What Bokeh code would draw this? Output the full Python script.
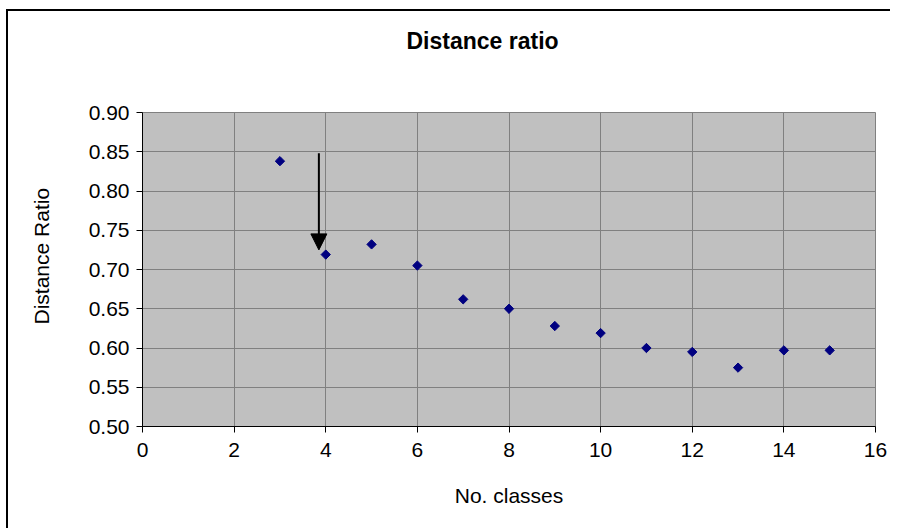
import numpy as np
from bokeh.plotting import figure
from bokeh.models import (FixedTicker, PrintfTickFormatter, Arrow, Title,
                          NormalHead, Range1d, ColumnDataSource)
from bokeh.embed import file_html
from bokeh.resources import INLINE

# ---- data ----
classes = [3, 4, 5, 6, 7, 8, 9, 10, 11, 12, 13, 14, 15]
ratio = [0.838, 0.719, 0.732, 0.705, 0.662, 0.650, 0.628, 0.619, 0.600, 0.595, 0.575, 0.597, 0.597]
x_ticks = [0, 2, 4, 6, 8, 10, 12, 14, 16]
y_ticks = [0.50, 0.55, 0.60, 0.65, 0.70, 0.75, 0.80, 0.85, 0.90]
arrow_x = 3.85
arrow_y_start = 0.848
arrow_y_end = 0.725

FONT = "Liberation Sans"

p = figure(width=884, height=519, output_backend="svg", toolbar_location=None,
           x_range=Range1d(0, 16), y_range=Range1d(0.50, 0.90),
           min_border_left=134, min_border_top=101, min_border_right=17,
           min_border_bottom=104)
p.styles = {"margin-left": "8px", "margin-top": "11px",
            "box-shadow": "-2px -2px 0px 0px black"}
p.title.text = ""

p.background_fill_color = "#C0C0C0"
p.border_fill_color = "white"
p.outline_line_color = "#808080"
p.outline_line_width = 1

for ax in (p.xaxis[0], p.yaxis[0]):
    ax.axis_line_color = "black"
    ax.axis_line_width = 1
    ax.major_tick_line_color = "black"
    ax.major_tick_out = 6
    ax.major_tick_in = 0
    ax.minor_tick_out = 0
    ax.minor_tick_in = 0
    ax.major_label_text_font = FONT
    ax.major_label_text_font_size = "21px"
    ax.major_label_text_color = "black"
    ax.axis_label_text_font = FONT
    ax.axis_label_text_font_size = "21px"
    ax.axis_label_text_font_style = "normal"
    ax.axis_label_text_color = "black"

p.xaxis.ticker = FixedTicker(ticks=x_ticks)
p.yaxis.ticker = FixedTicker(ticks=y_ticks)
p.yaxis.formatter = PrintfTickFormatter(format="%.2f")
p.xaxis.major_label_standoff = 10
p.yaxis.major_label_standoff = 7
p.xaxis.axis_label = "No. classes"
p.xaxis.axis_label_standoff = 24

# title: blank spacer panel next to the frame, then the title panel above it
top_spacer = Title(text=" ", standoff=31, text_font=FONT, text_font_size="23px",
                   text_font_style="bold", text_color="white")
p.add_layout(top_spacer, "above")
main_title = Title(text="Distance ratio", align="left", offset=264, standoff=0,
                   text_font=FONT, text_font_size="23px", text_font_style="bold",
                   text_color="black")
p.add_layout(main_title, "above")

# y-axis label: blank spacer panel next to the axis, then the label panel
left_spacer = Title(text=" ", standoff=8, text_font=FONT, text_font_size="21px",
                    text_color="white")
p.add_layout(left_spacer, "left")
ylab = Title(text="Distance Ratio", align="left", offset=102, standoff=0,
             text_font=FONT, text_font_size="21px", text_font_style="normal",
             text_color="black")
p.add_layout(ylab, "left")

p.grid.grid_line_color = "#808080"
p.grid.grid_line_width = 1
p.xgrid.ticker = FixedTicker(ticks=x_ticks)
p.ygrid.ticker = FixedTicker(ticks=y_ticks)

src = ColumnDataSource(dict(x=classes, y=ratio))
p.scatter("x", "y", source=src, marker="square", angle=np.pi / 4, size=6.6,
          fill_color="#000080", line_color="#000080")

p.add_layout(Arrow(x_start=arrow_x, y_start=arrow_y_start, x_end=arrow_x, y_end=arrow_y_end,
                   line_color="black", line_width=2,
                   end=NormalHead(size=16, fill_color="black", line_color="black")))

open("out.html", "w").write(file_html(p, INLINE))
